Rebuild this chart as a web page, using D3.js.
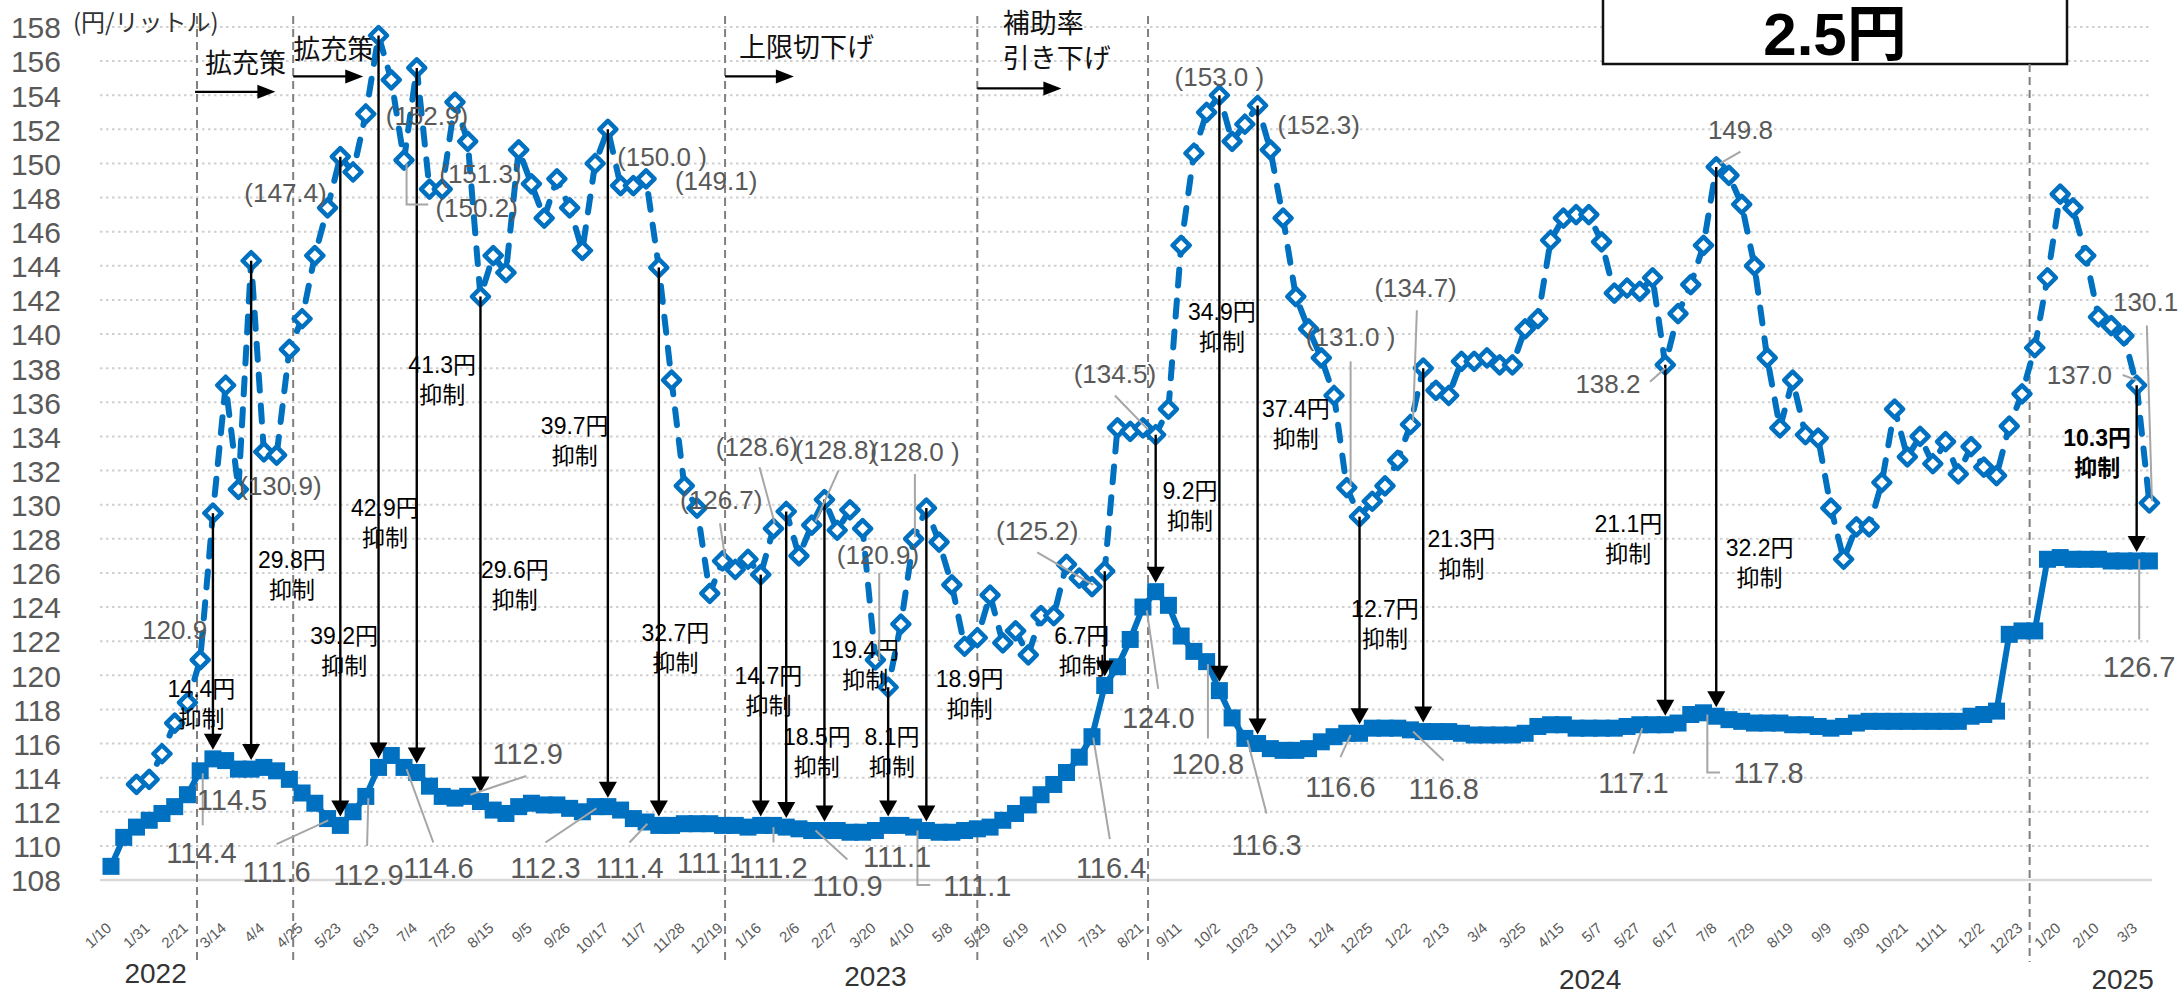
<!DOCTYPE html>
<html><head><meta charset="utf-8">
<script src="https://cdn.jsdelivr.net/npm/d3@7"></script>
<style>body{margin:0;background:#fff;}svg{display:block;}</style>
</head><body>
<svg id="chart" width="2183" height="997"></svg>
<script>
// ---- data ----
const withoutSubsidy = [null,null,113.6,113.9,115.4,117.2,118.4,120.9,129.5,137.0,
130.9,144.3,133.1,132.9,139.1,140.9,144.6,147.4,150.4,149.5,
152.9,157.5,154.9,150.2,155.6,148.5,148.5,153.6,151.3,142.2,
144.6,143.6,150.8,148.8,146.8,149.1,147.4,144.9,150.0,152.0,
148.7,148.7,149.1,143.9,137.3,131.1,129.8,124.8,126.7,126.2,
126.8,125.9,128.6,129.6,127.0,128.8,130.3,128.5,129.7,128.6,
120.9,119.3,123.0,128.0,129.8,127.8,125.3,121.7,122.2,124.7,
121.9,122.6,121.2,123.5,123.5,126.5,125.7,125.2,126.1,134.5,
134.3,134.5,134.1,135.6,145.2,150.6,153.0,154.0,151.3,152.3,
153.4,150.8,146.8,142.2,140.3,138.6,136.4,131.0,129.3,130.2,
131.1,132.6,134.7,138.0,136.7,136.4,138.4,138.4,138.6,138.2,
138.2,140.3,140.9,145.5,146.8,147.0,147.0,145.4,142.4,142.7,
142.5,143.3,138.2,141.2,142.9,145.2,149.8,149.3,147.6,144.0,
138.6,134.5,137.3,134.1,133.9,129.8,126.8,128.7,128.7,131.3,
135.6,132.8,134.0,132.4,133.7,131.8,133.4,132.2,131.7,134.6,
136.5,139.2,143.3,148.2,147.4,144.6,141.0,140.5,139.9,137.0,
130.1];
const actualPrice = [108.8,110.5,111.1,111.5,111.9,112.3,113.0,114.4,115.1,115.0,
114.5,114.5,114.6,114.4,113.9,113.1,112.5,111.6,111.2,112.0,
112.9,114.6,115.3,114.6,114.3,113.5,112.9,112.8,112.9,112.6,
112.1,111.9,112.3,112.5,112.4,112.4,112.2,112.0,112.3,112.3,
112.1,111.6,111.4,111.2,111.2,111.3,111.3,111.3,111.2,111.2,
111.1,111.2,111.2,111.1,111.0,110.9,110.9,110.9,110.8,110.8,
110.9,111.2,111.2,111.1,110.9,110.8,110.8,110.9,111.0,111.1,
111.5,111.9,112.4,113.0,113.6,114.3,115.2,116.4,119.4,120.5,
122.1,124.0,124.9,124.1,122.3,121.4,120.8,119.1,117.5,116.3,
116.0,115.7,115.6,115.6,115.7,116.1,116.4,116.6,116.6,116.9,
116.9,116.9,116.8,116.7,116.7,116.7,116.6,116.5,116.5,116.5,
116.5,116.6,117.0,117.1,117.1,116.9,116.9,116.9,116.9,117.0,
117.1,117.1,117.1,117.2,117.7,117.8,117.6,117.4,117.3,117.2,
117.2,117.2,117.1,117.1,117.0,116.9,117.0,117.2,117.3,117.3,
117.3,117.3,117.3,117.3,117.3,117.3,117.6,117.7,117.9,122.4,
122.6,122.6,126.8,126.9,126.8,126.8,126.8,126.7,126.7,126.7,
126.7];
const tickLabels = ["1/10","1/31","2/21","3/14","4/4","4/25","5/23","6/13","7/4","7/25","8/15","9/5","9/26","10/17","11/7","11/28","12/19",
"1/16","2/6","2/27","3/20","4/10","5/8","5/29","6/19","7/10","7/31","8/21","9/11","10/2","10/23","11/13","12/4","12/25",
"1/22","2/13","3/4","3/25","4/15","5/7","5/27","6/17","7/8","7/29","8/19","9/9","9/30","10/21","11/11","12/2","12/23",
"1/20","2/10","3/3"];
const tickStep = 3;
const yTickValues = d3.range(108, 159, 2);
const years = ["2022","2023","2024","2025"];
const yearAt = [3.5, 60.0, 116.1, 157.9];

// subsidy arrows: week index, amount label
const arrowWeeks = [8,11,18,21,24,29,39,43,51,53,56,61,64,78,82,87,90,98,103,122,126,159];
const arrowTexts = ["14.4円","29.8円","39.2円","42.9円","41.3円","29.6円","39.7円","32.7円","14.7円","18.5円","19.4円","8.1円","18.9円","6.7円","9.2円","34.9円","37.4円","12.7円","21.3円","21.1円","32.2円","10.3円"];

// policy events
const eventLines = [6.75, 14.3, 48.2, 68.0, 81.4, 150.6];

// ---- layout / annotation placement (not data) ----
const arrowLabelPos = [[7.1,119.2],[14.2,126.8],[18.3,122.3],[21.5,129.8],[26.0,138.2],[31.7,126.2],[36.4,134.6],[44.3,122.5],
[51.6,120.0],[55.4,116.4],[59.2,121.5],[61.3,116.4],[67.4,119.8],[76.2,122.3],[84.7,130.8],[87.2,141.3],[93.0,135.6],
[100.0,123.9],[106.0,128.0],[119.1,128.9],[129.4,127.5],[155.9,133.9]];

const diamondLabels = [
 {t:"120.9", x:5.0, v:122.65},
 {t:"(147.4)", x:13.7, v:148.3},
 {t:"(130.9)", x:13.3, v:131.1},
 {t:"(152.9)", x:24.8, v:152.8},
 {t:"(151.3)", x:29.0, v:149.4},
 {t:"(150.2)", x:28.7, v:147.4, leader:[[23.2,150.0],[23.2,147.6],[24.9,147.6]]},
 {t:"(150.0 )", x:43.25, v:150.4},
 {t:"(149.1)", x:47.5, v:149.0},
 {t:"(126.7)", x:47.9, v:130.3, leader:[[47.8,128.9],[48.2,126.9]]},
 {t:"(128.6)", x:50.7, v:133.4, leader:[[50.9,132.2],[52.1,128.9]]},
 {t:"(128.8)", x:56.9, v:133.2, leader:[[57.1,132.0],[55.3,129.0]]},
 {t:"(128.0 )", x:63.1, v:133.1, leader:[[63.1,131.8],[63.1,128.1]]},
 {t:"(120.9)", x:60.2, v:127.1, leader:[[60.3,126.0],[60.3,120.9]]},
 {t:"(125.2)", x:72.7, v:128.5, leader:[[72.7,127.2],[77.1,125.3]]},
 {t:"(134.5)", x:78.8, v:137.7, leader:[[78.8,136.4],[81.4,134.4]]},
 {t:"(153.0 )", x:87.0, v:155.1},
 {t:"(152.3)", x:94.8, v:152.3},
 {t:"(131.0 )", x:97.3, v:139.85, leader:[[97.3,138.4],[97.3,131.1]]},
 {t:"(134.7)", x:102.4, v:142.7, leader:[[102.5,141.4],[102.2,134.9]]},
 {t:"138.2", x:117.5, v:137.1, leader:[[120.8,137.2],[122.0,138.0]]},
 {t:"149.8", x:127.9, v:152.0, leader:[[126.3,150.0],[127.9,150.7]]},
 {t:"137.0", x:154.5, v:137.6, leader:[[157.9,137.6],[159.0,137.3]]},
 {t:"130.1", x:159.7, v:141.9, leader:[[159.8,140.5],[160.2,130.2]]}
];
const squareLabels = [
 {t:"114.4", x:7.1, v:109.6, leader:[[7.2,114.25],[7.2,111.2]]},
 {t:"114.5", x:9.5, v:112.7},
 {t:"111.6", x:13.0, v:108.5, leader:[[13.0,110.1],[17.05,111.5]]},
 {t:"112.9", x:20.2, v:108.3, leader:[[20.1,110.0],[20.2,112.8]]},
 {t:"114.6", x:25.7, v:108.7, leader:[[25.3,110.2],[23.2,114.5]]},
 {t:"112.9", x:32.7, v:115.4, leader:[[28.2,113.0],[32.6,114.1]]},
 {t:"112.3", x:34.1, v:108.7, leader:[[34.1,110.2],[38.1,112.2]]},
 {t:"111.4", x:40.7, v:108.7, leader:[[40.7,110.2],[42.1,111.3]]},
 {t:"111.1", x:47.1, v:109.05},
 {t:"111.2", x:52.0, v:108.7, leader:[[52.0,111.1],[52.0,110.2]]},
 {t:"110.9", x:57.8, v:107.7, leader:[[55.3,110.9],[57.8,109.2]]},
 {t:"111.1", x:61.7, v:109.4},
 {t:"111.1", x:68.0, v:107.7, leader:[[63.3,110.9],[63.3,107.7],[64.3,107.7]]},
 {t:"116.4", x:78.5, v:108.7, leader:[[77.1,116.35],[78.4,110.4]]},
 {t:"124.0", x:82.2, v:117.5, leader:[[81.3,123.8],[82.2,119.2]]},
 {t:"120.8", x:86.1, v:114.85, leader:[[86.1,120.65],[86.1,116.3]]},
 {t:"116.3", x:90.7, v:110.05, leader:[[89.2,116.2],[90.7,111.9]]},
 {t:"116.6", x:96.5, v:113.5, leader:[[96.5,115.2],[97.3,116.5]]},
 {t:"116.8", x:104.6, v:113.35, leader:[[102.2,116.7],[104.6,115.0]]},
 {t:"117.1", x:119.5, v:113.7, leader:[[119.5,115.4],[120.2,116.9]]},
 {t:"117.8", x:130.1, v:114.3, leader:[[125.3,117.7],[125.3,114.3],[126.3,114.3]]},
 {t:"126.7", x:159.2, v:120.5, leader:[[159.2,126.8],[159.2,122.1]]}
];
const eventNotes = [
 {lines:["拡充策"], x:10.55, v:[156.0], anchor:"middle", arrow:[6.6,12.9,154.2]},
 {lines:["拡充策"], x:14.3, v:[156.8], anchor:"start", arrow:[14.3,19.8,155.1]},
 {lines:["上限切下げ"], x:49.3, v:[156.9], anchor:"start", arrow:[48.2,53.6,155.1]},
 {lines:["補助率","引き下げ"], x:70.0, v:[158.35,156.3], anchor:"start", arrow:[68.0,74.6,154.4]}
];

// ---- drawing ----
const svg = d3.select("#chart");
const blue = "#0070C0", gray = "#595959", leaderGray = "#a6a6a6";
const numFont = "'Liberation Sans', Arial, 'Noto Sans CJK JP', sans-serif";
const nWeeks = actualPrice.length;
const x = d3.scaleLinear().domain([0, nWeeks - 1]).range([111, 111 + 12.74 * (nWeeks - 1)]);
const y = d3.scaleLinear().domain([108, 158]).range([880, 27]);
const gridX0 = 100, gridX1 = 2150;

// gridlines
svg.append("g").selectAll("line").data(yTickValues.filter(v => v > 108)).join("line")
  .attr("x1", gridX0).attr("x2", gridX1).attr("y1", d => y(d)).attr("y2", d => y(d))
  .attr("stroke", "#d0d0d0").attr("stroke-width", 2).attr("stroke-dasharray", "2.5,3.5");
svg.append("line").attr("x1", gridX0).attr("x2", gridX1 + 2).attr("y1", y(108)).attr("y2", y(108))
  .attr("stroke", "#d9d9d9").attr("stroke-width", 2.5);

// y axis labels
const yAxis = d3.axisLeft(y).tickValues(yTickValues).tickSize(0).tickPadding(0).tickFormat(d3.format("d"));
const gy = svg.append("g").attr("transform", "translate(61,0)").call(yAxis);
gy.select(".domain").remove();
gy.selectAll("text").attr("font-family", numFont).attr("font-size", 30).attr("fill", gray).attr("dy", "0.36em");

// x tick labels (every 3rd week)
svg.append("g").selectAll("text").data(tickLabels).join("text")
  .attr("transform", (d, k) => `translate(${x(k * tickStep) - 6},${921}) rotate(-42)`)
  .attr("text-anchor", "end").attr("dy", "0.75em")
  .attr("font-family", numFont).attr("font-size", 15).attr("fill", gray).text(d => d);

// year labels
svg.append("g").selectAll("text").data(years).join("text")
  .attr("x", (d, k) => x(yearAt[k])).attr("y", (d, k) => [983, 986, 989, 989][k])
  .attr("text-anchor", "middle").attr("font-family", numFont).attr("font-size", 28).attr("fill", "#333")
  .text(d => d);

// unit label
svg.append("text").attr("x", 73).attr("y", 20).attr("dominant-baseline", "central")
  .attr("font-family", "'Noto Sans CJK JP', sans-serif").attr("font-size", 24).attr("fill", "#333")
  .text("(円/リットル)");

// box with 2.5円
svg.append("rect").attr("x", 1603).attr("y", -5).attr("width", 464).attr("height", 69)
  .attr("fill", "#fff").attr("stroke", "#111").attr("stroke-width", 2.5);
svg.append("text").attr("x", 1835).attr("y", 55).attr("text-anchor", "middle")
  .attr("font-family", "'Liberation Sans', Arial, 'Noto Sans CJK JP', sans-serif").attr("font-weight", "bold")
  .attr("font-size", 60).attr("fill", "#000").text("2.5円");

// event dashed lines
svg.append("g").selectAll("line").data(eventLines).join("line")
  .attr("x1", d => x(d)).attr("x2", d => x(d))
  .attr("y1", (d, k) => k === eventLines.length - 1 ? 64 : 16).attr("y2", 962)
  .attr("stroke", "#808080").attr("stroke-width", 2).attr("stroke-dasharray", "8,5");

// event notes and arrows
const gEv = svg.append("g");
eventNotes.forEach(e => {
  e.lines.forEach((ln, k) => {
    gEv.append("text").attr("x", x(e.x)).attr("y", y(e.v[k])).attr("dominant-baseline", "central")
      .attr("text-anchor", e.anchor).attr("font-family", "'Noto Sans CJK JP', sans-serif")
      .attr("font-size", 27).attr("fill", "#111").text(ln);
  });
  const [a0, a1, av] = e.arrow;
  const yy = y(av), xe = x(a1);
  gEv.append("line").attr("x1", x(a0)).attr("x2", xe - 14).attr("y1", yy).attr("y2", yy)
    .attr("stroke", "#000").attr("stroke-width", 2.2);
  gEv.append("path").attr("d", `M${xe},${yy} L${xe - 18},${yy - 7} L${xe - 18},${yy + 7} Z`).attr("fill", "#000");
});

// actual price series (solid, squares)
const idx = d3.range(nWeeks);
svg.append("path").datum(idx)
  .attr("d", d3.line().x(i => x(i)).y(i => y(actualPrice[i])))
  .attr("fill", "none").attr("stroke", blue).attr("stroke-width", 6).attr("stroke-linejoin", "round");
svg.append("g").selectAll("rect").data(idx).join("rect")
  .attr("x", i => x(i) - 8.5).attr("y", i => y(actualPrice[i]) - 8.5)
  .attr("width", 17).attr("height", 17).attr("fill", blue);

// without-subsidy series (dashed, diamonds)
const dIdx = idx.filter(i => withoutSubsidy[i] != null);
svg.append("path").datum(dIdx)
  .attr("d", d3.line().x(i => x(i)).y(i => y(withoutSubsidy[i])))
  .attr("fill", "none").attr("stroke", blue).attr("stroke-width", 6)
  .attr("stroke-dasharray", "16,15").attr("stroke-linecap", "round").attr("stroke-linejoin", "round");
svg.append("g").selectAll("path").data(dIdx).join("path")
  .attr("transform", i => `translate(${x(i)},${y(withoutSubsidy[i])})`)
  .attr("d", "M0,-8.5 L8.5,0 L0,8.5 L-8.5,0 Z")
  .attr("fill", "#fff").attr("stroke", blue).attr("stroke-width", 4.5).attr("stroke-linejoin", "round");

// subsidy arrows
const gAr = svg.append("g");
arrowWeeks.forEach((i, k) => {
  const xx = x(i), y0 = y(withoutSubsidy[i]), tip = y(actualPrice[i]) - 9;
  gAr.append("line").attr("x1", xx).attr("x2", xx).attr("y1", y0).attr("y2", tip - 12)
    .attr("stroke", "#000").attr("stroke-width", 2.4);
  gAr.append("path").attr("d", `M${xx},${tip} L${xx - 9},${tip - 16} L${xx + 9},${tip - 16} Z`).attr("fill", "#000");
  const [lx, lv] = arrowLabelPos[k];
  const bold = i === 159;
  const t = gAr.append("text").attr("text-anchor", "middle")
    .attr("font-family", "'Liberation Sans', Arial, 'Noto Sans CJK JP', sans-serif")
    .attr("font-size", 23).attr("fill", "#000").attr("font-weight", bold ? "bold" : "normal");
  t.append("tspan").attr("x", x(lx)).attr("y", y(lv)).attr("dy", "0.36em").text(arrowTexts[k]);
  t.append("tspan").attr("x", x(lx)).attr("y", y(lv) + 30).attr("dy", "0.36em")
    .attr("font-family", "'Noto Sans CJK JP', sans-serif").text("抑制");
});

// value labels with leaders
const leaderLine = d3.line().x(p => x(p[0])).y(p => y(p[1]));
function drawLabels(list, size) {
  const g = svg.append("g");
  list.filter(d => d.leader).forEach(d => {
    g.append("path").attr("d", leaderLine(d.leader)).attr("fill", "none")
      .attr("stroke", leaderGray).attr("stroke-width", 2);
  });
  g.selectAll("text").data(list).join("text")
    .attr("x", d => x(d.x)).attr("y", d => y(d.v)).attr("dy", "0.36em")
    .attr("text-anchor", "middle").attr("font-family", numFont).attr("font-size", size)
    .attr("fill", gray).text(d => d.t);
}
drawLabels(diamondLabels, 26);
drawLabels(squareLabels, 29);
</script>
</body></html>
